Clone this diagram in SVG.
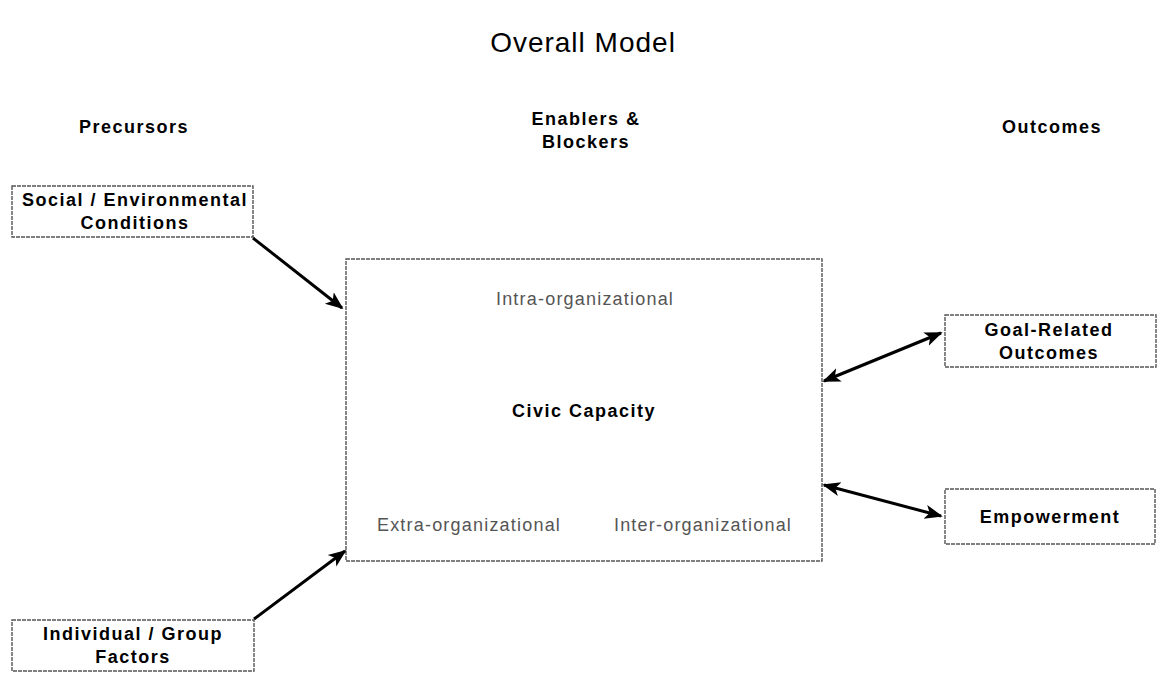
<svg xmlns="http://www.w3.org/2000/svg" width="1158" height="673" viewBox="0 0 1158 673">
<style>
.box{fill:#fff;stroke:#555;stroke-width:1.4;stroke-dasharray:4 1}
.t{font-family:"Liberation Sans",Arial,sans-serif;fill:#000;text-anchor:middle}
.b{font-weight:bold;font-size:18px;letter-spacing:1.5px}
.g{font-size:18px;letter-spacing:1.2px;fill:#555}
.c{stroke:#000;stroke-width:3;fill:none}
</style>
<defs>
<marker id="ah" viewBox="0 0 10 10" refX="9" refY="5" markerWidth="6" markerHeight="6" orient="auto-start-reverse" markerUnits="strokeWidth">
<path d="M0,1 L10,5 L0,9 L2.5,5 Z" fill="#000"/>
</marker>
</defs>
<rect width="1158" height="673" fill="#fff"/>
<text class="t" x="583" y="52" font-size="28" letter-spacing="1">Overall Model</text>
<text class="t b" x="134" y="133">Precursors</text>
<text class="t b" x="586" y="125">Enablers &amp;</text>
<text class="t b" x="586" y="148">Blockers</text>
<text class="t b" x="1052" y="133">Outcomes</text>

<g id="social">
<rect class="box" x="12" y="186" width="241" height="51"/>
<text class="t b" x="135" y="206">Social / Environmental</text>
<text class="t b" x="135" y="229">Conditions</text>
</g>
<g id="civic">
<rect class="box" x="346" y="259" width="476" height="302"/>
<text class="t g" x="585" y="305">Intra-organizational</text>
<text class="t b" x="584" y="417" letter-spacing="1.3">Civic Capacity</text>
<text class="t g" x="469" y="531">Extra-organizational</text>
<text class="t g" x="703" y="531">Inter-organizational</text>
</g>
<g id="goal">
<rect class="box" x="945" y="315" width="211" height="52"/>
<text class="t b" x="1049" y="336">Goal-Related</text>
<text class="t b" x="1049" y="359">Outcomes</text>
</g>
<g id="empowerment">
<rect class="box" x="945" y="489" width="210" height="55"/>
<text class="t b" x="1050" y="523">Empowerment</text>
</g>
<g id="individual">
<rect class="box" x="12" y="620" width="242" height="51"/>
<text class="t b" x="133" y="640">Individual / Group</text>
<text class="t b" x="133" y="663">Factors</text>
</g>
<g id="connectors">
<line class="c" x1="253" y1="238" x2="342" y2="308" marker-end="url(#ah)"/>
<line class="c" x1="254" y1="619" x2="345" y2="551" marker-end="url(#ah)"/>
<line class="c" x1="824" y1="381" x2="941" y2="333" marker-start="url(#ah)" marker-end="url(#ah)"/>
<line class="c" x1="824" y1="485" x2="941" y2="516" marker-start="url(#ah)" marker-end="url(#ah)"/>
</g>
</svg>
